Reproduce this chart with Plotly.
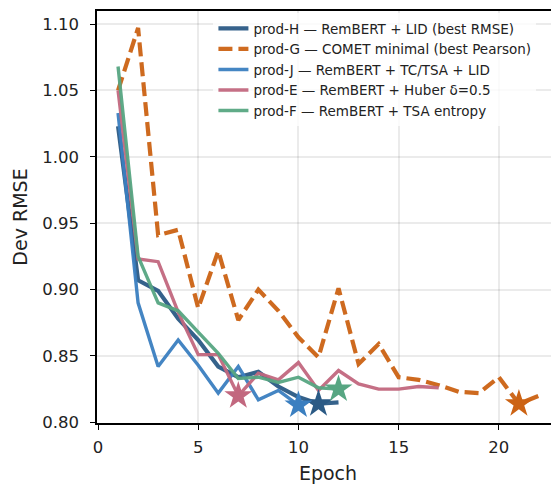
import plotly.graph_objects as go

# Data
H_epochs = list(range(1, 13))
H_vals = [1.023, 0.907, 0.899, 0.878, 0.862, 0.842, 0.834, 0.838, 0.827, 0.819, 0.814, 0.815]
G_epochs = list(range(1, 23))
G_vals = [1.050, 1.097, 0.941, 0.945, 0.886, 0.929, 0.877, 0.900, 0.884, 0.864, 0.849, 0.901,
          0.844, 0.859, 0.834, 0.832, 0.828, 0.823, 0.822, 0.834, 0.814, 0.820]
J_epochs = list(range(1, 11))
J_vals = [1.033, 0.890, 0.842, 0.862, 0.843, 0.822, 0.842, 0.817, 0.824, 0.813]
E_epochs = list(range(1, 18))
E_vals = [1.050, 0.923, 0.921, 0.883, 0.851, 0.851, 0.820, 0.837, 0.832, 0.845, 0.824, 0.839,
          0.829, 0.825, 0.825, 0.827, 0.826]
F_epochs = list(range(1, 13))
F_vals = [1.068, 0.925, 0.890, 0.884, 0.868, 0.852, 0.833, 0.834, 0.830, 0.834, 0.826, 0.825]

names = [
    "prod-H — RemBERT + LID (best RMSE)",
    "prod-G — COMET minimal (best Pearson)",
    "prod-J — RemBERT + TC/TSA + LID",
    "prod-E — RemBERT + Huber δ=0.5",
    "prod-F — RemBERT + TSA entropy",
]
best_epochs = [11, 21, 10, 7, 12]
colors = ["#2b5a85", "#cc6314", "#3b7fc0", "#c2687f", "#57a682"]
widths = [4.2, 4.2, 3.4, 3.4, 3.4]
dashes = ["solid", "14px,6px", "solid", "solid", "solid"]

series = [(H_epochs, H_vals), (G_epochs, G_vals), (J_epochs, J_vals), (E_epochs, E_vals), (F_epochs, F_vals)]

fig = go.Figure()
for (ep, vals), name, col, w, d in zip(series, names, colors, widths, dashes):
    fig.add_trace(go.Scatter(x=ep, y=vals, mode="lines", name=name,
                             line=dict(color=col, width=w, dash=d), opacity=0.95))
for (ep, vals), col, be in zip(series, colors, best_epochs):
    i = ep.index(be)
    fig.add_trace(go.Scatter(x=[ep[i]], y=[vals[i]], mode="markers", showlegend=False,
                             marker=dict(symbol="star", size=21, color=col, line=dict(width=0))))

axis_font = dict(family="DejaVu Sans", size=16.5, color="#222")
fig.update_layout(
    width=551, height=476,
    margin=dict(l=89, r=0, t=3, b=61, autoexpand=False),
    plot_bgcolor="white", paper_bgcolor="white",
    font=dict(family="DejaVu Sans", size=14, color="#222"),
    showlegend=True,
    legend=dict(x=0.252, y=0.995, xanchor="left", yanchor="top",
                bgcolor="rgba(255,255,255,0.8)", font=dict(size=13.5),
                tracegroupgap=0, itemwidth=30),
    xaxis=dict(range=[-0.05, 23.0], tickvals=[0, 5, 10, 15, 20], showgrid=True,
               gridcolor="rgba(0,0,0,0.08)", gridwidth=1.5, showline=True, linecolor="black",
               linewidth=1.5, mirror=True, ticks="outside", ticklen=5, tickwidth=1.2,
               tickcolor="black", tickfont=axis_font, zeroline=False, automargin=False,
               ticklabelstandoff=3,
               title=dict(text="Epoch", font=dict(size=19), standoff=13)),
    yaxis=dict(range=[0.7995, 1.1098], tickvals=[0.80, 0.85, 0.90, 0.95, 1.00, 1.05, 1.10],
               tickformat=".2f", showgrid=True, gridcolor="rgba(0,0,0,0.08)", gridwidth=1.5,
               showline=True, linecolor="black", linewidth=1.5, mirror=False,
               ticks="outside", ticklen=5, tickwidth=1.2, tickcolor="black",
               tickfont=axis_font, zeroline=False, automargin=False,
               ticklabelstandoff=8,
               title=dict(text="Dev RMSE", font=dict(size=19), standoff=10)),
)
fig.write_html("out.html")
